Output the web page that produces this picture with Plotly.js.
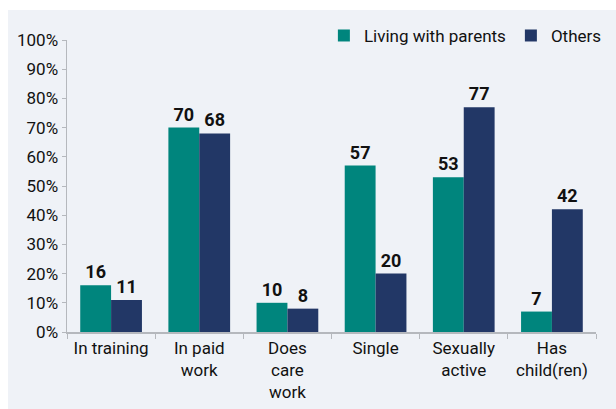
<!DOCTYPE html>
<html>
<head>
<meta charset="utf-8">
<script src="https://cdn.plot.ly/plotly-3.0.1.min.js"></script>
<style>
  html, body { margin: 0; padding: 0; background: #ffffff; }
  #chart { position: absolute; left: 8px; top: 10px; width: 608px; height: 399px; }
</style>
</head>
<body>
<div id="chart"></div>
<script>
// Categories and values (percent)
const categories = ['In training', 'In paid<br>work', 'Does<br>care<br>work', 'Single', 'Sexually<br>active', 'Has<br>child(ren)'];
const livingWithParents = [16, 70, 10, 57, 53, 7];
const others = [11, 68, 8, 20, 77, 42];

const fontFamily = 'Roboto, "DejaVu Sans", sans-serif';

function makeTrace(name, values, color) {
    return {
        type: 'bar',
        name: name,
        x: categories,
        y: values,
        marker: { color: color },
        text: values.map(v => String(v)),
        textposition: 'outside',
        constraintext: 'none',
        cliponaxis: false,
        textfont: { family: fontFamily, size: 18, color: '#111111', weight: 'bold' },
        hoverinfo: 'none'
    };
}

const data = [
    makeTrace('Living with parents', livingWithParents, '#00857d'),
    makeTrace('Others', others, '#223766')
];

const layout = {
    width: 608,
    height: 399,
    margin: { l: 59, r: 20, t: 30, b: 77, autoexpand: false },
    paper_bgcolor: '#eff2f7',
    plot_bgcolor: '#eff2f7',
    font: { family: fontFamily, size: 17, color: '#111111' },
    barmode: 'group',
    bargap: 0.3,
    bargroupgap: 0,
    showlegend: true,
    legend: {
        orientation: 'h',
        xref: 'container',
        yref: 'container',
        x: 0.985,
        xanchor: 'right',
        y: 0.935,
        yanchor: 'middle',
        bgcolor: 'rgba(0,0,0,0)',
        font: { family: fontFamily, size: 17, color: '#111111' },
        itemwidth: 30,
        tracegroupgap: 0
    },
    xaxis: {
        type: 'category',
        showgrid: false,
        showline: true,
        linecolor: '#b5b8bd',
        linewidth: 1.5,
        ticks: 'outside',
        tickson: 'boundaries',
        ticklen: 5,
        tickcolor: '#b5b8bd',
        tickfont: { family: fontFamily, size: 17, color: '#111111' },
        zeroline: false
    },
    yaxis: {
        range: [0, 100],
        dtick: 10,
        ticksuffix: '%',
        showgrid: false,
        showline: true,
        linecolor: '#b5b8bd',
        linewidth: 1.5,
        ticks: 'outside',
        ticklen: 4,
        tickcolor: '#b5b8bd',
        tickfont: { family: fontFamily, size: 17, color: '#111111' },
        zeroline: false
    }
};

Plotly.newPlot('chart', data, layout, { displayModeBar: false, staticPlot: true });
</script>
</body>
</html>
